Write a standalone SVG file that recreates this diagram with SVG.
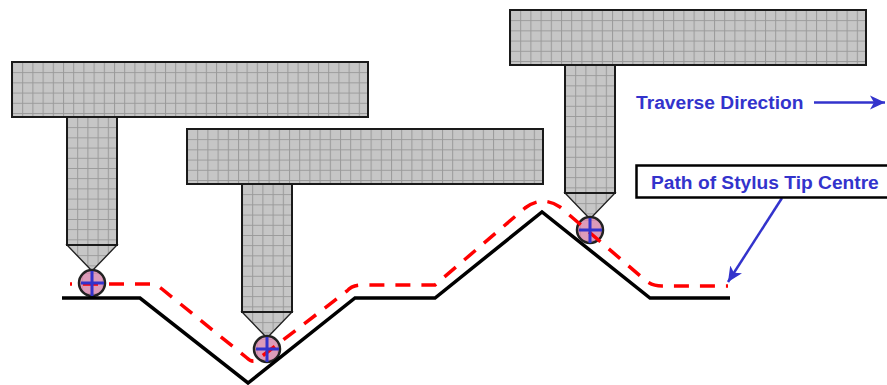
<svg xmlns="http://www.w3.org/2000/svg" width="887" height="385" viewBox="0 0 887 385">
<style>
.body{fill:url(#grid);stroke:#1a1a1a;stroke-width:2}
.cone{fill:url(#grid);stroke:#222;stroke-width:1.4}
.tip-base{fill:url(#grid)}
.tip{fill:#ec7fb0;fill-opacity:.6;stroke:#222;stroke-width:2.5}
.cross{stroke:#3333cc;stroke-width:3;fill:none}
.lbl{font:bold 19.2px "Liberation Sans",Arial,sans-serif;fill:#3333cc}
.surface{fill:none;stroke:#000;stroke-width:3.5}
.path{fill:none;stroke:#f00;stroke-width:3.5;stroke-dasharray:15 11;stroke-dashoffset:13}
.lead{fill:none;stroke:#3333cc;stroke-width:2.5}
</style>
<defs>
<pattern id="grid" width="10.2" height="10.2" patternUnits="userSpaceOnUse">
<rect width="10.2" height="10.2" fill="#c6c6c6"/>
<path d="M0 .5H10.2M.5 0V10.2" stroke="#9a9a9a" stroke-width="1" fill="none"/>
</pattern>
<marker id="arrow" markerUnits="userSpaceOnUse" markerWidth="17" markerHeight="17" refX="15" refY="8" orient="auto">
<path d="M0 1L15 8L0 15L4 8Z" fill="#3333cc"/>
</marker>
<rect id="head" width="356" height="55" class="body"/>
<rect id="shaft" width="50" height="128" class="body"/>
<path id="cone" d="M0 0H50L25 26Z" class="cone"/>
<g id="ball">
<circle class="tip-base" r="13"/>
<circle class="tip" r="13"/>
</g>
</defs>
<g id="stylus-1">
<use href="#head" transform="translate(12 62)"/>
<use href="#cone" transform="translate(67 245)"/>
<use href="#shaft" transform="translate(67 117)"/>
<use href="#ball" transform="translate(92 283)"/>
</g>
<g id="stylus-2">
<use href="#head" transform="translate(187 129)"/>
<use href="#cone" transform="translate(242 312)"/>
<use href="#shaft" transform="translate(242 184)"/>
<use href="#ball" transform="translate(267 349)"/>
</g>
<g id="stylus-3">
<use href="#head" transform="translate(510 10)"/>
<use href="#cone" transform="translate(565 193)"/>
<use href="#shaft" transform="translate(565 65)"/>
<use href="#ball" transform="translate(590 230)"/>
</g>
<g id="connectors">
<path id="surface" class="surface" d="M62 298H140L248 383L355 298H435L542 212L650 298H730"/>
<path id="stylus-path" class="path" d="M70 284H150Q156 284 162 289L247 358Q252 363 257 360L347 291Q352 285 362 285H435L525 208Q542 195 560 207L645 280Q652 286 662 286H728"/>
<path id="traverse-arrow" class="lead" d="M814 102.500H885" marker-end="url(#arrow)"/>
<path id="path-leader" class="lead" d="M782 198L728 282" marker-end="url(#arrow)"/>
</g>
<g id="crosshairs">
<path class="cross" d="M81 283H104M92 271V296"/>
<path class="cross" d="M256 349H279M267 337V362"/>
<path class="cross" d="M579 230H602M590 218V243"/>
</g>
<g id="traverse-label">
<text class="lbl" x="636" y="108.500">Traverse Direction</text>
</g>
<g id="path-label">
<rect x="636.500" y="165.500" width="260" height="32" fill="#fff" stroke="#000" stroke-width="2.500"/>
<text class="lbl" x="651" y="189">Path of Stylus Tip Centre</text>
</g>
</svg>
